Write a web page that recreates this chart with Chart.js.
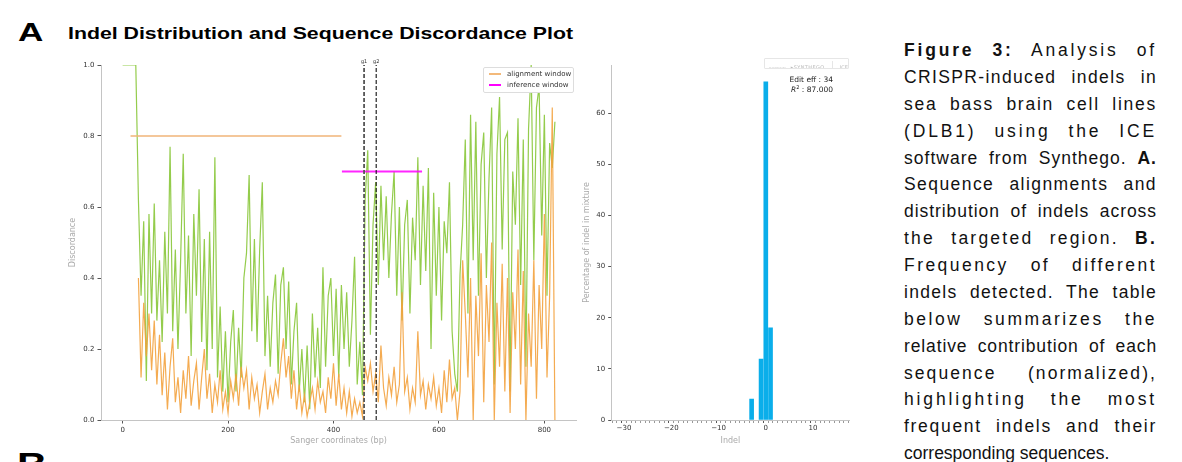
<!DOCTYPE html>
<html>
<head>
<meta charset="utf-8">
<script src="https://cdn.jsdelivr.net/npm/chart.js@4.4.1/dist/chart.umd.min.js"></script>
<style>
    html, body { margin: 0; padding: 0; width: 1182px; height: 462px; overflow: hidden; background: #fff; }
    .abs { position: absolute; }
    .panel { position: absolute; font-family: "Liberation Sans", Arial, sans-serif; font-weight: bold; color: #000; line-height: 1; white-space: nowrap; }
    #caption { position: absolute; left: 904px; top: 37px; width: 253px; font-family: "Liberation Sans", Arial, sans-serif; font-size: 17.5px; line-height: 26.87px; color: #111; }
    #caption div { text-align: justify; text-align-last: justify; white-space: nowrap; }
    #caption div.last, #caption div.measure { text-align: left; text-align-last: left; }
    .legend { left: 483px; top: 67px; width: 89px; height: 24px; border: 1px solid #ddd; border-radius: 2px; background: #fff; font: 7px "DejaVu Sans", sans-serif; color: #333; }
    .legend .row { position: absolute; left: 5px; height: 10px; line-height: 10px; white-space: nowrap; }
    .legend .swatch { display: inline-block; width: 12px; height: 1.5px; vertical-align: middle; margin-right: 6px; }
    .note { font: 7.5px "DejaVu Sans", sans-serif; color: #222; text-align: right; width: 80px; line-height: 9.5px; }
    .badge { left: 764px; top: 58px; width: 83px; height: 9px; border: 1px solid #e6e6e6; border-radius: 1px; font-family: "DejaVu Sans", sans-serif; color: #bbb; white-space: nowrap; line-height: 9px; overflow: hidden; }
</style>
</head>
<body>
<div class="panel" style="left:18px; top:19px; font-size:26px; transform:scaleX(1.35); transform-origin:left top;">A</div>
<div class="panel" id="title" style="left:68px; top:25px; font-size:16.5px; transform:scaleX(1.29); transform-origin:left top;">Indel Distribution and Sequence Discordance Plot</div>
<div class="panel" style="left:17px; top:448px; font-size:32px; transform:scaleX(1.3); transform-origin:left top;">B</div>

<div class="abs" style="left:0; top:50px; width:582px; height:410px;"><canvas id="discordChart"></canvas></div>
<div class="abs" style="left:570px; top:50px; width:290px; height:410px;"><canvas id="indelChart"></canvas></div>

<div class="abs legend">
    <div class="row" style="top:1px;"><span class="swatch" style="background:#f3b97a;"></span>alignment window</div>
    <div class="row" style="top:12px;"><span class="swatch" style="background:#ff00ff;"></span>inference window</div>
</div>

<div class="abs badge">
    <span style="font-size:2.5px; margin-left:4px;">POWERED BY</span>
    <span style="font-size:5px; letter-spacing:0.4px;">&#x25B8;SYNTHEGO</span>
    <span style="display:inline-block; width:1px; height:8px; background:#e6e6e6; vertical-align:middle; margin:0 2px;"></span>
    <span style="font-size:5px;">ICE</span>
</div>
<div class="abs note" style="left:753px; top:75px;">Edit eff : 34<br><i>R</i><sup style="font-size:5px; line-height:0;">2</sup> : 87.000</div>

<div id="caption"></div>

<script>
    // ── Discordance traces (sampled every 5 bp from bp 0) ─────────
    const bpStart = 0;
    const bpStep = 5;
    const editedDiscord = [
        1.00, 1.00, 1.00, 1.00, 1.00, 1.00,
        0.62, 0.35, 0.56, 0.11, 0.58, 0.30, 0.61, 0.28, 0.45, 0.22,
        0.53, 0.30, 0.77, 0.25, 0.48, 0.20, 0.45, 0.75, 0.30, 0.52,
        0.18, 0.58, 0.35, 0.65, 0.22, 0.51, 0.14, 0.53, 0.20, 0.74,
        0.12, 0.32, 0.08, 0.25, 0.05, 0.22, 0.31, 0.08, 0.26, 0.12,
        0.40, 0.47, 0.69, 0.25, 0.51, 0.22, 0.48, 0.67, 0.18, 0.35,
        0.15, 0.33, 0.41, 0.13, 0.38, 0.43, 0.20, 0.39, 0.10, 0.25,
        0.33, 0.08, 0.20, 0.05, 0.21, 0.03, 0.30, 0.12, 0.26, 0.09,
        0.43, 0.15, 0.35, 0.40, 0.18, 0.37, 0.12, 0.38, 0.20, 0.36,
        0.15, 0.28, 0.46, 0.10, 0.22, 0.07, 0.62, 0.76, 0.24, 0.55,
        0.67, 0.38, 0.66, 0.45, 0.63, 0.40, 0.58, 0.70, 0.35, 0.60,
        0.28, 0.55, 0.62, 0.30, 0.57, 0.45, 0.74, 0.38, 0.66, 0.42,
        0.71, 0.20, 0.64, 0.35, 0.60, 0.28, 0.56, 0.47, 0.67, 0.25,
        0.13, 0.08, 0.41, 0.55, 0.79, 0.30, 0.86, 0.45, 0.84, 0.35,
        0.72, 0.81, 0.40, 0.68, 0.88, 0.10, 0.75, 0.91, 0.48, 0.79,
        0.81, 0.08, 0.70, 0.55, 0.85, 0.38, 0.79, 0.15, 0.82, 1.00,
        0.45, 0.88, 0.94, 0.52, 0.86, 0.35, 0.78, 0.71, 0.84
    ];
    const controlDiscord = [
        null, null, null, null, null, null,
        0.40, 0.12, 0.33, 0.18, 0.30, 0.14, 0.28, 0.10, 0.24, 0.07,
        0.19, 0.03, 0.15, 0.23, 0.05, 0.12, 0.02, 0.14, 0.06, 0.18,
        0.04, 0.11, 0.16, 0.03, 0.12, 0.20, 0.06, 0.13, 0.02, 0.10,
        0.05, 0.14, 0.03, 0.08, 0.02, 0.11, 0.06, 0.13, 0.04, 0.15,
        0.09, 0.14, 0.03, 0.12, 0.06, 0.10, 0.02, 0.08, 0.13, 0.03,
        0.09, 0.05, 0.11, 0.07, 0.16, 0.23, 0.12, 0.18, 0.06, 0.14,
        0.03, 0.10, 0.02, 0.07, 0.01, 0.05, 0.09, 0.03, 0.11, 0.05,
        0.08, 0.02, 0.12, 0.06, 0.16, 0.04, 0.13, 0.03, 0.09, 0.02,
        0.08, 0.01, 0.06, 0.02, 0.05, 0.01, 0.15, 0.11, 0.16, 0.08,
        0.13, 0.05, 0.21, 0.09, 0.04, 0.12, 0.07, 0.15, 0.05, 0.10,
        0.36, 0.08, 0.12, 0.03, 0.09, 0.05, 0.25, 0.07, 0.11, 0.03,
        0.10, 0.06, 0.12, 0.04, 0.09, 0.02, 0.14, 0.05, 0.17, 0.06,
        0.09, 0.00, 0.08, 0.45, 0.30, 0.12, 0.40, 0.00, 0.35, 0.18,
        0.47, 0.05, 0.38, 0.22, 0.50, 0.00, 0.33, 0.15, 0.44, 0.08,
        0.40, 0.02, 0.36, 0.20, 0.48, 0.10, 0.42, 0.00, 0.30, 0.15,
        0.45, 0.06, 0.38, 0.20, 0.58, 0.12, 0.35, 0.88, 0.00
    ];
    const alignWindow = [15, 415];     // bp range, drawn at 0.8
    const inferWindow = [416, 568];    // bp range, drawn at 0.7
    const guideNames = ['g1', 'g2'];
    const guideBp = [458, 481];
    const discordXTicks = [0, 200, 400, 600, 800];
    const discordYTicks = [0, 0.2, 0.4, 0.6, 0.8, 1.0];

    // ── Indel spectrum ───────────────────────────────────────────
    const indelSizes = [-3, -1, 0, 1];
    const indelPct = [4.1, 11.9, 66.1, 18.0];
    const indelXTicks = [-30, -20, -10, 0, 10];
    const indelYTicks = [0, 10, 20, 30, 40, 50, 60];

    const captionLines = [
        '<b>Figure 3:</b> Analysis of',
        'CRISPR-induced indels in',
        'sea bass brain cell lines',
        '(DLB1) using the ICE',
        'software from Synthego. <b>A.</b>',
        'Sequence alignments and',
        'distribution of indels across',
        'the targeted region. <b>B.</b>',
        'Frequency of different',
        'indels detected. The table',
        'below summarizes the',
        'relative contribution of each',
        'sequence (normalized),',
        'highlighting the most',
        'frequent indels and their',
        'corresponding sequences.'
    ];
    const captionBox = document.getElementById('caption');
    captionBox.innerHTML = captionLines
        .map((l, i) => `<div class="${i === captionLines.length - 1 ? 'last' : 'measure'}"><span>${l}</span></div>`)
        .join('');
    // spread loose lines partly through letter spacing, rest through word gaps
    captionBox.querySelectorAll('div.measure').forEach(div => {
        const span = div.firstChild;
        const natural = span.getBoundingClientRect().width;
        const extra = 253 - natural;
        const chars = span.textContent.length;
        if (extra > 0) div.style.letterSpacing = (extra * 0.65 / chars).toFixed(2) + 'px';
        div.classList.remove('measure');
    });

    const tickFont = { family: 'DejaVu Sans', size: 7 };
    const titleFont = { family: 'DejaVu Sans', size: 8 };
    const spine = { display: true, color: '#c4c4c4', width: 1 };
    const tickMarks = { drawOnChartArea: false, drawTicks: true, tickLength: 3.5, color: '#555' };

    const guideLabels = {
        id: 'guideLabels',
        afterDatasetsDraw(chart) {
            const { ctx, scales: { x, y } } = chart;
            ctx.save();
            ctx.font = '5px "DejaVu Sans"';
            ctx.fillStyle = '#333';
            ctx.textAlign = 'center';
            ctx.textBaseline = 'bottom';
            guideNames.forEach((n, i) => ctx.fillText(n, x.getPixelForValue(guideBp[i]), y.getPixelForValue(1) - 1));
            ctx.restore();
        }
    };

    // ── Discordance plot (line) ──────────────────────────────────
    new Chart(document.getElementById('discordChart'), {
        type: 'line',
        data: {
            datasets: [
                {
                    label: 'edited',
                    data: editedDiscord.map((v, i) => ({ x: bpStart + i * bpStep, y: v })),
                    borderColor: 'rgba(136,198,56,0.9)', borderWidth: 1.2, pointRadius: 0, order: 4
                },
                {
                    label: 'control',
                    data: controlDiscord.map((v, i) => ({ x: bpStart + i * bpStep, y: v })),
                    borderColor: 'rgba(243,162,62,0.9)', borderWidth: 1.2, pointRadius: 0, order: 3
                },
                {
                    label: 'alignment window',
                    data: alignWindow.map(b => ({ x: b, y: 0.8 })),
                    borderColor: 'rgba(240,180,120,0.75)', borderWidth: 1.8, pointRadius: 0, order: 2
                },
                {
                    label: 'inference window',
                    data: inferWindow.map(b => ({ x: b, y: 0.7 })),
                    borderColor: 'rgba(255,0,255,0.85)', borderWidth: 1.8, pointRadius: 0, order: 2
                },
                ...guideBp.map((b, i) => ({
                    label: guideNames[i],
                    data: [{ x: b, y: 0 }, { x: b, y: 1 }],
                    borderColor: i === 0 ? '#555' : '#111',
                    borderWidth: i === 0 ? 1.8 : 1.1,
                    borderDash: [4, 2], pointRadius: 0, order: 1
                }))
            ]
        },
        options: {
            responsive: true, maintainAspectRatio: false, animation: false,
            layout: { padding: { top: 15, right: 6, left: 68, bottom: 14 } },
            plugins: { legend: { display: false }, tooltip: { enabled: false } },
            scales: {
                x: {
                    type: 'linear', min: -41, max: 860,
                    afterBuildTicks: s => { s.ticks = discordXTicks.map(v => ({ value: v })); },
                    afterFit: s => { s.height = 26; },
                    grid: tickMarks, border: spine,
                    ticks: { font: tickFont, color: '#333', padding: 2, maxRotation: 0, autoSkip: false },
                    title: { display: true, text: 'Sanger coordinates (bp)', color: '#aaa', font: titleFont, padding: 0 }
                },
                y: {
                    min: 0, max: 1,
                    afterBuildTicks: s => { s.ticks = discordYTicks.map(v => ({ value: v })); },
                    afterFit: s => { s.width = 33; },
                    grid: tickMarks, border: spine,
                    ticks: { font: tickFont, color: '#333', padding: 3, callback: v => v.toFixed(1) },
                    title: { display: true, text: 'Discordance', color: '#aaa', font: titleFont, padding: 0 }
                }
            }
        },
        plugins: [guideLabels]
    });

    // ── Indel distribution (bar) ─────────────────────────────────
    new Chart(document.getElementById('indelChart'), {
        type: 'bar',
        data: {
            datasets: [{
                data: indelSizes.map((s, i) => ({ x: s, y: indelPct[i] })),
                backgroundColor: '#0aaeea', barThickness: 4, grouped: false
            }]
        },
        options: {
            responsive: true, maintainAspectRatio: false, animation: false,
            layout: { padding: { top: 15, right: 11, left: 12, bottom: 14 } },
            plugins: { legend: { display: false }, tooltip: { enabled: false } },
            scales: {
                x: {
                    type: 'linear', min: -32.6, max: 17.6, offset: false,
                    afterBuildTicks: s => {
                        const t = [];
                        for (let v = Math.ceil(s.min); v <= s.max; v++) t.push({ value: v });
                        s.ticks = t;
                    },
                    afterFit: s => { s.height = 26; },
                    grid: {
                        drawOnChartArea: false, drawTicks: true, tickLength: 3,
                        color: c => indelXTicks.includes(c.tick && c.tick.value) ? '#555' : '#999'
                    },
                    border: spine,
                    ticks: {
                        font: tickFont, color: '#333', padding: 1, maxRotation: 0, autoSkip: false,
                        callback: v => indelXTicks.includes(v) ? String(v).replace('-', '\u2212') : ''
                    },
                    title: { display: true, text: 'Indel', color: '#aaa', font: titleFont, padding: 0 }
                },
                y: {
                    min: 0, max: 69.4,
                    afterBuildTicks: s => { s.ticks = indelYTicks.map(v => ({ value: v })); },
                    afterFit: s => { s.width = 29.7; },
                    grid: tickMarks, border: spine,
                    ticks: { font: tickFont, color: '#333', padding: 3 },
                    title: { display: true, text: 'Percentage of indel in mixture', color: '#aaa', font: titleFont, padding: 0 }
                }
            }
        }
    });
</script>
</body>
</html>
